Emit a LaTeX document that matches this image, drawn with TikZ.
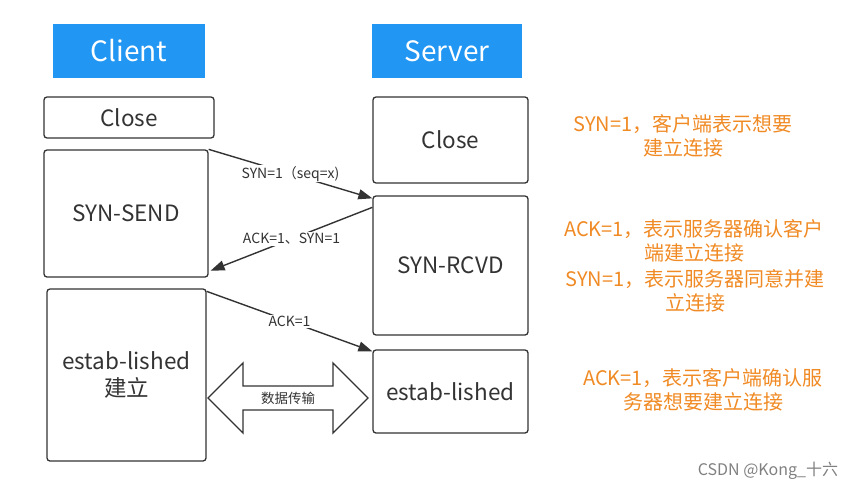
\documentclass[tikz,border=0pt]{standalone}
\usepackage{fontspec}
\setmainfont{Noto Sans CJK SC}
\usetikzlibrary{shapes,arrows,positioning,calc,arrows.meta}

\definecolor{headblue}{HTML}{2196F3}
\definecolor{noteorange}{HTML}{F08A24}
\definecolor{boxgray}{HTML}{333333}

\tikzset{
  header/.style={fill=headblue, text=white, minimum width=152pt, minimum height=54pt, inner sep=0pt, font=\fontsize{28}{30}\selectfont},
  state/.style={draw=boxgray, line width=1.3pt, rounded corners=3pt, text=boxgray, inner sep=0pt, align=center, font=\fontsize{22.5}{27}\selectfont},
  note/.style={text=noteorange, align=center, inner sep=0pt, font=\fontsize{20}{24}\selectfont},
  msg/.style={draw=boxgray, line width=1.4pt, -{Triangle[length=14pt,width=10pt]}},
  msglabel/.style={fill=white, text=boxgray, inner sep=1pt, font=\fontsize{14}{16}\selectfont}
}

\begin{document}
\begin{tikzpicture}[x=1pt,y=-1pt]
    \useasboundingbox (0,0) rectangle (857,490);

    % Headers
    \node[header] (client) at (129,51) {Client};
    \node[header, minimum width=150pt] (server) at (447,51) {Server};

    % Client states
    \node[state, minimum width=170pt, minimum height=41pt] (cclose) at (129,117.5) {Close};
    \node[state, minimum width=164pt, minimum height=127pt] (send) at (126,213.5) {SYN-SEND};
    \node[state, minimum width=159pt, minimum height=172pt] (cest) at (126.5,375) {estab-lished\\建立};

    % Server states
    \node[state, minimum width=155pt, minimum height=86pt] (sclose) at (450.5,140) {Close};
    \node[state, minimum width=155pt, minimum height=139pt] (rcvd) at (450.5,265.5) {SYN-RCVD};
    \node[state, minimum width=155pt, minimum height=83pt] (sest) at (450.5,391.5) {estab-lished};

    % Handshake
    \draw[msg] (send.north east) -- ([yshift=-3pt]rcvd.north west)
        node[midway, msglabel] (syn) {SYN=1（seq=x)};
    \draw[msg] ([yshift=-12pt]rcvd.north west) -- ([xshift=2pt,yshift=7pt]send.south east)
        node[midway, msglabel] (synack) {ACK=1、SYN=1};
    \draw[msg] ([yshift=-3pt]cest.north east) -- ([yshift=-2pt]sest.north west)
        node[midway, msglabel] (ack) {ACK=1};

    % Data transfer
    \node[text=boxgray, font=\fontsize{13.5}{15}\selectfont] (xfer) at (288,398) {数据传输};
    \draw[boxgray, line width=1.3pt, line join=miter] (xfer.center)
        ++(-80,0) -- ++(35,-35) -- ++(0,23) -- ++(90,0) -- ++(0,-23) -- ++(35,35)
        -- ++(-35,35) -- ++(0,-23) -- ++(-90,0) -- ++(0,23) -- cycle;

    % Notes
    \node[note] (note1) at (683,136) {SYN=1，客户端表示想要\\建立连接};
    \node[note] (note2) at (694,241) {ACK=1，表示服务器确认客户\\端建立连接};
    \node[note] (note3) at (695,291) {SYN=1，表示服务器同意并建\\立连接};
    \node[note] (note4) at (703,390) {ACK=1，表示客户端确认服\\务器想要建立连接};

    \node[text=gray, font=\fontsize{16}{18}\selectfont] (mark) at (768,471) {CSDN @Kong\_十六};
\end{tikzpicture}
\end{document}
